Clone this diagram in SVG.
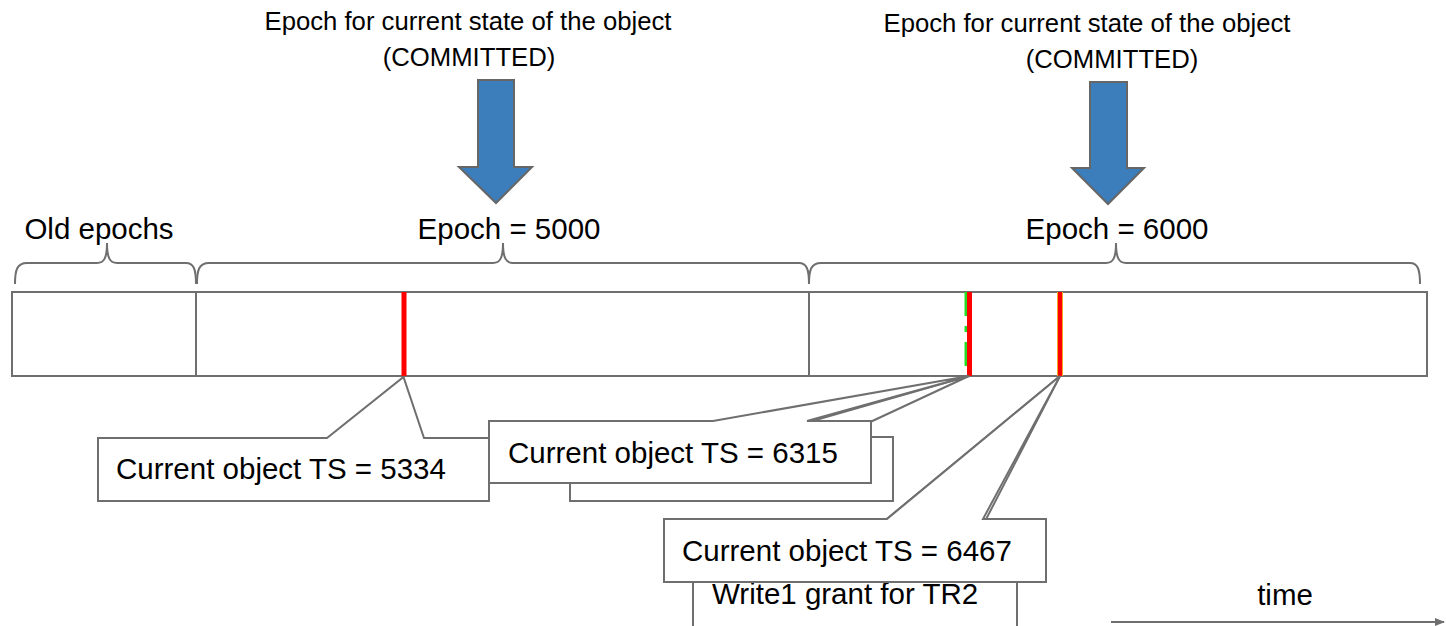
<svg xmlns="http://www.w3.org/2000/svg" width="1446" height="626" viewBox="0 0 1446 626">
  <style>
    text { font-family: "Liberation Sans", Arial, sans-serif; fill: #000; }
    .title { font-size: 25.7px; text-anchor: middle; }
    .lbl { font-size: 29.5px; }
    .mid { text-anchor: middle; }
    .edge { fill: none; stroke: #6f6f6f; stroke-width: 2; }
    .box { fill: #fff; stroke: #6f6f6f; stroke-width: 2; stroke-linejoin: miter; }
    .bigarrow { fill: #3c7ebb; stroke: #666; stroke-width: 2; }
    .mark { stroke: #ff0000; stroke-width: 5; }
  </style>
  <defs>
    <marker id="tip" markerWidth="10" markerHeight="10" refX="9" refY="5" orient="auto" markerUnits="userSpaceOnUse">
      <path d="M0,1 L10,5 L0,9 Z" fill="#6f6f6f"/>
    </marker>
  </defs>

  <!-- headings with block arrows -->
  <g id="commit-5000">
    <text class="title" x="468" y="30">Epoch for current state of the object</text>
    <text class="title" x="469" y="66">(COMMITTED)</text>
    <path class="bigarrow" d="M478,80 L514,80 L514,167 L532,167 L496,203 L459,167 L478,167 Z"/>
  </g>
  <g id="commit-6000">
    <text class="title" x="1087" y="32">Epoch for current state of the object</text>
    <text class="title" x="1112" y="68">(COMMITTED)</text>
    <path class="bigarrow" d="M1090,82 L1127,82 L1127,168 L1144,168 L1108,204 L1072,168 L1090,168 Z"/>
  </g>

  <!-- epoch labels and braces -->
  <g id="old-epochs">
    <text class="lbl mid" x="99" y="239">Old epochs</text>
    <path class="edge" d="M15,284 C15,270 17,263 27,263 L97,263 C104,263 107,258 107,243 C107,258 110,263 117,263 L186,263 C194,263 196,270 196,284"/>
  </g>
  <g id="epoch-5000">
    <text class="lbl mid" x="509" y="239">Epoch = 5000</text>
    <path class="edge" d="M197,284 C197,270 199,263 209,263 L493,263 C500,263 503,258 503,243 C503,258 506,263 513,263 L799,263 C807,263 809,270 809,284"/>
  </g>
  <g id="epoch-6000">
    <text class="lbl mid" x="1117" y="239">Epoch = 6000</text>
    <path class="edge" d="M809,284 C809,270 811,263 821,263 L1106,263 C1113,263 1116,258 1116,243 C1116,258 1119,263 1126,263 L1410,263 C1418,263 1420,270 1420,284"/>
  </g>

  <!-- timeline bar -->
  <g id="timeline">
    <rect class="box" x="12" y="292" width="1415" height="84"/>
    <line class="edge" x1="196" y1="292" x2="196" y2="376"/>
    <line class="edge" x1="809" y1="292" x2="809" y2="376"/>
    <line class="mark" x1="404" y1="292" x2="404" y2="376"/>
    <line x1="966" y1="292" x2="966" y2="376" stroke="#22dd22" stroke-width="3" stroke-dasharray="24,10,6,10"/>
    <line class="mark" x1="969.5" y1="292" x2="969.5" y2="376"/>
    <line x1="1060" y1="292" x2="1060" y2="376" stroke="#f5a623" stroke-width="6"/>
    <line x1="1060" y1="292" x2="1060" y2="376" stroke="#ff0000" stroke-width="4"/>
  </g>

  <!-- callouts, back to front -->
  <g id="callout-hidden">
    <path class="box" d="M570,437 L757,437 L969,376 L838,437 L893,437 L893,501 L570,501 Z"/>
  </g>
  <g id="callout-5334">
    <path class="box" d="M98,438 L327,438 L403.5,377 L424,438 L489,438 L489,501 L98,501 Z"/>
    <text class="lbl" x="116" y="479">Current object TS = 5334</text>
  </g>
  <g id="callout-6315">
    <path class="box" d="M489,421 L713,421 L969,376 L807,421 L871,421 L871,483 L489,483 Z"/>
    <text class="lbl" x="508" y="463">Current object TS = 6315</text>
  </g>
  <g id="callout-write1">
    <path class="box" d="M693,560 L837,560 L1060,376 L965,560 L1017,560 L1017,640 L693,640 Z"/>
    <text class="lbl" x="712" y="604">Write1 grant for TR2</text>
  </g>
  <g id="callout-6467">
    <path class="box" d="M664,519 L887,519 L1060,376 L983,519 L1046,519 L1046,582 L664,582 Z"/>
    <text class="lbl" x="682" y="561">Current object TS = 6467</text>
  </g>

  <!-- time axis -->
  <g id="time-axis">
    <text class="lbl mid" x="1285" y="605">time</text>
    <line class="edge" x1="1111" y1="622" x2="1444" y2="622" marker-end="url(#tip)"/>
  </g>
</svg>
